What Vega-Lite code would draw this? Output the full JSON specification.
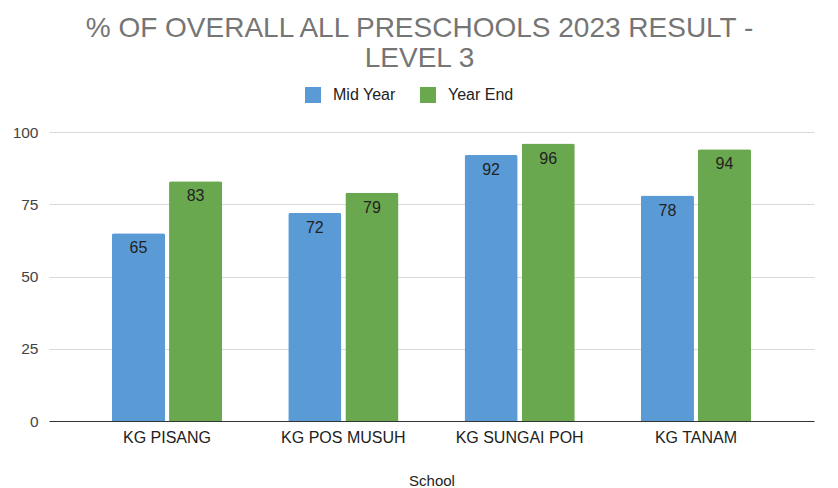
{
  "$schema": "https://vega.github.io/schema/vega-lite/v6.json",
  "autosize": {"type": "none"},
  "padding": {"left": 49, "top": 132, "right": 24, "bottom": 67},
  "width": 765,
  "height": 289,
  "background": "white",
  "title": {
    "text": ["% OF OVERALL ALL PRESCHOOLS 2023 RESULT -", "LEVEL 3"],
    "font": "Liberation Sans",
    "fontSize": 28,
    "fontWeight": "normal",
    "color": "#757575",
    "anchor": "middle",
    "dx": -12,
    "lineHeight": 30,
    "offset": 14
  },
  "data": {
    "values": [
      {"School": "KG PISANG", "Period": "Mid Year", "Value": 65},
      {"School": "KG PISANG", "Period": "Year End", "Value": 83},
      {"School": "KG POS MUSUH", "Period": "Mid Year", "Value": 72},
      {"School": "KG POS MUSUH", "Period": "Year End", "Value": 79},
      {"School": "KG SUNGAI POH", "Period": "Mid Year", "Value": 92},
      {"School": "KG SUNGAI POH", "Period": "Year End", "Value": 96},
      {"School": "KG TANAM", "Period": "Mid Year", "Value": 78},
      {"School": "KG TANAM", "Period": "Year End", "Value": 94}
    ]
  },
  "encoding": {
    "x": {
      "field": "School", "type": "nominal", "sort": null,
      "scale": {"paddingInner": 0.375, "paddingOuter": 0.357},
      "axis": {
        "labelAngle": 0, "labelFont": "Liberation Sans", "labelFontSize": 16, "labelColor": "#222222",
        "labelPadding": 8, "ticks": false, "domainColor": "#333333",
        "title": "School", "titleFont": "Liberation Sans", "titleFontSize": 15, "titleFontWeight": "normal",
        "titleColor": "#222222", "titlePadding": 28
      }
    },
    "xOffset": {"field": "Period", "type": "nominal", "scale": {"paddingInner": 0.07}},
    "y": {
      "field": "Value", "type": "quantitative",
      "scale": {"domain": [0, 100]},
      "axis": {
        "values": [0, 25, 50, 75, 100], "title": null, "domain": false, "ticks": false,
        "labelFont": "Liberation Sans", "labelFontSize": 15.5, "labelColor": "#444444", "labelPadding": 11,
        "gridColor": "#d9d9d9"
      }
    }
  },
  "layer": [
    {
      "mark": {"type": "bar", "cornerRadiusTopLeft": 2, "cornerRadiusTopRight": 2},
      "encoding": {
        "color": {
          "field": "Period", "type": "nominal",
          "scale": {"domain": ["Mid Year", "Year End"], "range": ["#5b9bd5", "#6aa84f"]},
          "legend": {
            "orient": "none", "legendX": 256, "legendY": -45, "title": null, "direction": "horizontal",
            "symbolType": "square", "symbolSize": 256, "symbolStrokeWidth": 0,
            "labelFont": "Liberation Sans", "labelFontSize": 16, "labelColor": "#222222",
            "columnPadding": 24, "labelOffset": 12
          }
        }
      }
    },
    {
      "mark": {"type": "text", "baseline": "middle", "dy": 15, "font": "Liberation Sans", "fontSize": 16, "color": "#222222"},
      "encoding": {"text": {"field": "Value", "type": "quantitative"}}
    }
  ],
  "config": {
    "view": {"stroke": null}
  }
}
